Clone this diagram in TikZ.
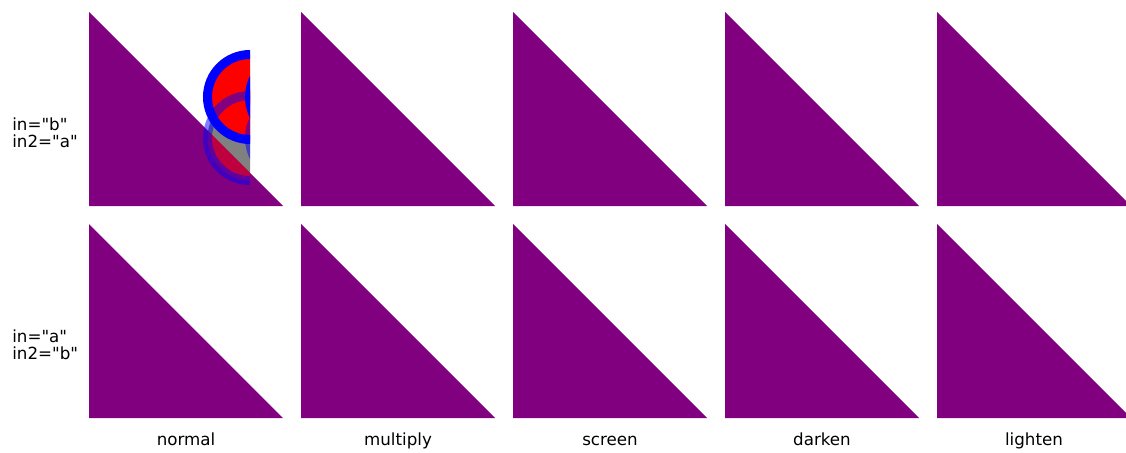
\documentclass[tikz,border=0pt]{standalone}
\usepackage{fontspec}
\setmainfont{DejaVu Sans}[Ligatures=TeXOff]
\usepackage{tikz}
\definecolor{trifill}{RGB}{128,0,128}

\begin{document}
\begin{tikzpicture}[x=0.02cm,y=-0.02cm,
        ring/.style={draw=blue,line width=0.18cm},
        lbl/.style={font=\fontsize{9.5}{9.6}\selectfont,inner sep=0pt}]
        \useasboundingbox (0,0) rectangle (1126,453);
        % gray part under the first triangle
        \begin{scope}
            \clip (190,40) rectangle (250,200);
            \fill[gray] (250,138) circle (42.5);
        \end{scope}
        % triangles
        \foreach \name [count=\i from 0] in {normal,multiply,screen,darken,lighten} {
            \foreach \j in {0,1}
                \fill[trifill] (89+212*\i,12+212*\j) -- ++(0,194) -- ++(194,0) -- cycle;
            \node[lbl,anchor=base] (mode\i) at (186+212*\i,445) {\name};
        }
        % circles, right half cut away
        \begin{scope}
            \clip (190,40) rectangle (250,200);
            \begin{scope}
                \clip (89,12) -- (89,206) -- (283,206) -- cycle;
                \fill[red,opacity=0.5] (250,138) circle (42.5);
            \end{scope}
            \foreach \cx in {250,292}
                \draw[ring,fill=red] (\cx,97) circle (42.5);
            \foreach \cx in {250,292}
                \draw[ring,opacity=0.5] (\cx,138) circle (42.5);
        \end{scope}
        \node[lbl,anchor=west,align=left] (rowba) at (12,133) {in="b"\\in2="a"};
        \node[lbl,anchor=west,align=left] (rowab) at (12,345) {in="a"\\in2="b"};
    \end{tikzpicture}
\end{document}
